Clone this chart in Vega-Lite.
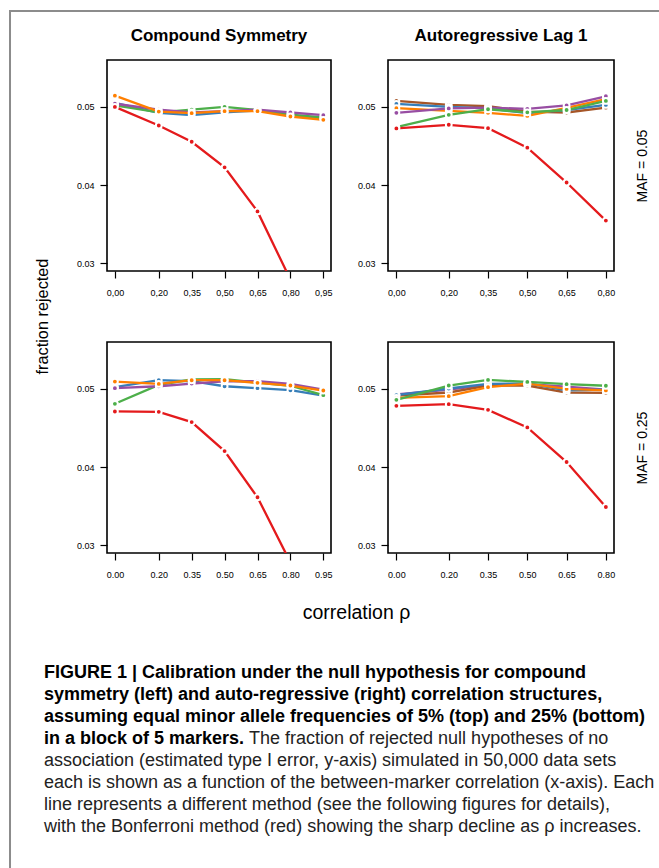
{
  "$schema": "https://vega.github.io/schema/vega-lite/v6.json",
  "background": "white",
  "padding": {"left": 9, "top": 10, "right": 0, "bottom": 0},
  "config": {
    "font": "Liberation Sans",
    "view": {"stroke": "black", "strokeWidth": 1.6},
    "axis": {"domain": false, "grid": false, "ticks": true, "tickColor": "black", "tickSize": 7, "tickWidth": 1.2, "labelFontSize": 9, "labelColor": "black", "labelFont": "Liberation Sans", "titleFont": "Liberation Sans", "titleFontWeight": "normal", "titleColor": "black", "labelFlush": false, "labelOverlap": false},
    "axisX": {"labelPadding": 10.5},
    "axisY": {"labelPadding": 6},
    "title": {"fontSize": 17, "fontWeight": "bold", "offset": 15, "color": "black", "font": "Liberation Sans"}
  },
  "datasets": {
    "cs05": [
      {"rho": 0, "method": "Method 1", "rate": 0.0505}, {"rho": 0.2, "method": "Method 1", "rate": 0.04924}, {"rho": 0.35, "method": "Method 1", "rate": 0.04894}, {"rho": 0.5, "method": "Method 1", "rate": 0.0493}, {"rho": 0.65, "method": "Method 1", "rate": 0.04955}, {"rho": 0.8, "method": "Method 1", "rate": 0.0489}, {"rho": 0.95, "method": "Method 1", "rate": 0.0485},
      {"rho": 0, "method": "Method 2", "rate": 0.0502}, {"rho": 0.2, "method": "Method 2", "rate": 0.0493}, {"rho": 0.35, "method": "Method 2", "rate": 0.04966}, {"rho": 0.5, "method": "Method 2", "rate": 0.05}, {"rho": 0.65, "method": "Method 2", "rate": 0.0496}, {"rho": 0.8, "method": "Method 2", "rate": 0.049}, {"rho": 0.95, "method": "Method 2", "rate": 0.04864},
      {"rho": 0, "method": "Method 3", "rate": 0.0504}, {"rho": 0.2, "method": "Method 3", "rate": 0.04966}, {"rho": 0.35, "method": "Method 3", "rate": 0.0493}, {"rho": 0.5, "method": "Method 3", "rate": 0.04945}, {"rho": 0.65, "method": "Method 3", "rate": 0.04966}, {"rho": 0.8, "method": "Method 3", "rate": 0.04928}, {"rho": 0.95, "method": "Method 3", "rate": 0.04894},
      {"rho": 0, "method": "Method 5", "rate": 0.05144}, {"rho": 0.2, "method": "Method 5", "rate": 0.0494}, {"rho": 0.35, "method": "Method 5", "rate": 0.0492}, {"rho": 0.5, "method": "Method 5", "rate": 0.04945}, {"rho": 0.65, "method": "Method 5", "rate": 0.04945}, {"rho": 0.8, "method": "Method 5", "rate": 0.04877}, {"rho": 0.95, "method": "Method 5", "rate": 0.04834},
      {"rho": 0, "method": "Bonferroni", "rate": 0.05}, {"rho": 0.2, "method": "Bonferroni", "rate": 0.04762}, {"rho": 0.35, "method": "Bonferroni", "rate": 0.04554}, {"rho": 0.5, "method": "Bonferroni", "rate": 0.04227}, {"rho": 0.65, "method": "Bonferroni", "rate": 0.03662}, {"rho": 0.8, "method": "Bonferroni", "rate": 0.0279}, {"rho": 0.95, "method": "Bonferroni", "rate": 0.019}
    ],
    "ar05": [
      {"rho": 0, "method": "Method 4", "rate": 0.05076}, {"rho": 0.2, "method": "Method 4", "rate": 0.05025}, {"rho": 0.35, "method": "Method 4", "rate": 0.05008}, {"rho": 0.5, "method": "Method 4", "rate": 0.0494}, {"rho": 0.65, "method": "Method 4", "rate": 0.04928}, {"rho": 0.8, "method": "Method 4", "rate": 0.0499},
      {"rho": 0, "method": "Method 1", "rate": 0.05038}, {"rho": 0.2, "method": "Method 1", "rate": 0.05}, {"rho": 0.35, "method": "Method 1", "rate": 0.0498}, {"rho": 0.5, "method": "Method 1", "rate": 0.0492}, {"rho": 0.65, "method": "Method 1", "rate": 0.0496}, {"rho": 0.8, "method": "Method 1", "rate": 0.05025},
      {"rho": 0, "method": "Method 5", "rate": 0.04983}, {"rho": 0.2, "method": "Method 5", "rate": 0.04949}, {"rho": 0.35, "method": "Method 5", "rate": 0.04924}, {"rho": 0.5, "method": "Method 5", "rate": 0.04885}, {"rho": 0.65, "method": "Method 5", "rate": 0.04987}, {"rho": 0.8, "method": "Method 5", "rate": 0.05098},
      {"rho": 0, "method": "Method 3", "rate": 0.04924}, {"rho": 0.2, "method": "Method 3", "rate": 0.0498}, {"rho": 0.35, "method": "Method 3", "rate": 0.0499}, {"rho": 0.5, "method": "Method 3", "rate": 0.04975}, {"rho": 0.65, "method": "Method 3", "rate": 0.0502}, {"rho": 0.8, "method": "Method 3", "rate": 0.05136},
      {"rho": 0, "method": "Method 2", "rate": 0.04741}, {"rho": 0.2, "method": "Method 2", "rate": 0.04898}, {"rho": 0.35, "method": "Method 2", "rate": 0.0497}, {"rho": 0.5, "method": "Method 2", "rate": 0.0493}, {"rho": 0.65, "method": "Method 2", "rate": 0.0496}, {"rho": 0.8, "method": "Method 2", "rate": 0.05076},
      {"rho": 0, "method": "Bonferroni", "rate": 0.04724}, {"rho": 0.2, "method": "Bonferroni", "rate": 0.04771}, {"rho": 0.35, "method": "Bonferroni", "rate": 0.04728}, {"rho": 0.5, "method": "Bonferroni", "rate": 0.04478}, {"rho": 0.65, "method": "Bonferroni", "rate": 0.04032}, {"rho": 0.8, "method": "Bonferroni", "rate": 0.03545}
    ],
    "cs25": [
      {"rho": 0, "method": "Method 1", "rate": 0.05022}, {"rho": 0.2, "method": "Method 1", "rate": 0.05111}, {"rho": 0.35, "method": "Method 1", "rate": 0.05098}, {"rho": 0.5, "method": "Method 1", "rate": 0.05034}, {"rho": 0.65, "method": "Method 1", "rate": 0.05009}, {"rho": 0.8, "method": "Method 1", "rate": 0.04983}, {"rho": 0.95, "method": "Method 1", "rate": 0.04915},
      {"rho": 0, "method": "Method 2", "rate": 0.04809}, {"rho": 0.2, "method": "Method 2", "rate": 0.0505}, {"rho": 0.35, "method": "Method 2", "rate": 0.0512}, {"rho": 0.5, "method": "Method 2", "rate": 0.05124}, {"rho": 0.65, "method": "Method 2", "rate": 0.0508}, {"rho": 0.8, "method": "Method 2", "rate": 0.0504}, {"rho": 0.95, "method": "Method 2", "rate": 0.0492},
      {"rho": 0, "method": "Method 3", "rate": 0.05009}, {"rho": 0.2, "method": "Method 3", "rate": 0.05034}, {"rho": 0.35, "method": "Method 3", "rate": 0.05068}, {"rho": 0.5, "method": "Method 3", "rate": 0.05098}, {"rho": 0.65, "method": "Method 3", "rate": 0.05098}, {"rho": 0.8, "method": "Method 3", "rate": 0.05064}, {"rho": 0.95, "method": "Method 3", "rate": 0.0499},
      {"rho": 0, "method": "Method 5", "rate": 0.05094}, {"rho": 0.2, "method": "Method 5", "rate": 0.05064}, {"rho": 0.35, "method": "Method 5", "rate": 0.05111}, {"rho": 0.5, "method": "Method 5", "rate": 0.05111}, {"rho": 0.65, "method": "Method 5", "rate": 0.05077}, {"rho": 0.8, "method": "Method 5", "rate": 0.05043}, {"rho": 0.95, "method": "Method 5", "rate": 0.04979},
      {"rho": 0, "method": "Bonferroni", "rate": 0.04711}, {"rho": 0.2, "method": "Bonferroni", "rate": 0.04706}, {"rho": 0.35, "method": "Bonferroni", "rate": 0.04575}, {"rho": 0.5, "method": "Bonferroni", "rate": 0.04204}, {"rho": 0.65, "method": "Bonferroni", "rate": 0.03613}, {"rho": 0.8, "method": "Bonferroni", "rate": 0.0278}, {"rho": 0.95, "method": "Bonferroni", "rate": 0.019}
    ],
    "ar25": [
      {"rho": 0, "method": "Method 3", "rate": 0.04928}, {"rho": 0.2, "method": "Method 3", "rate": 0.0499}, {"rho": 0.35, "method": "Method 3", "rate": 0.0505}, {"rho": 0.5, "method": "Method 3", "rate": 0.0506}, {"rho": 0.65, "method": "Method 3", "rate": 0.0503}, {"rho": 0.8, "method": "Method 3", "rate": 0.0499},
      {"rho": 0, "method": "Method 4", "rate": 0.04915}, {"rho": 0.2, "method": "Method 4", "rate": 0.04954}, {"rho": 0.35, "method": "Method 4", "rate": 0.05043}, {"rho": 0.5, "method": "Method 4", "rate": 0.05043}, {"rho": 0.65, "method": "Method 4", "rate": 0.04954}, {"rho": 0.8, "method": "Method 4", "rate": 0.0495},
      {"rho": 0, "method": "Method 1", "rate": 0.0492}, {"rho": 0.2, "method": "Method 1", "rate": 0.05005}, {"rho": 0.35, "method": "Method 1", "rate": 0.05064}, {"rho": 0.5, "method": "Method 1", "rate": 0.0507}, {"rho": 0.65, "method": "Method 1", "rate": 0.0498}, {"rho": 0.8, "method": "Method 1", "rate": 0.0499},
      {"rho": 0, "method": "Method 5", "rate": 0.04885}, {"rho": 0.2, "method": "Method 5", "rate": 0.04907}, {"rho": 0.35, "method": "Method 5", "rate": 0.05022}, {"rho": 0.5, "method": "Method 5", "rate": 0.05068}, {"rho": 0.65, "method": "Method 5", "rate": 0.05}, {"rho": 0.8, "method": "Method 5", "rate": 0.0498},
      {"rho": 0, "method": "Method 2", "rate": 0.0486}, {"rho": 0.2, "method": "Method 2", "rate": 0.05043}, {"rho": 0.35, "method": "Method 2", "rate": 0.05115}, {"rho": 0.5, "method": "Method 2", "rate": 0.05089}, {"rho": 0.65, "method": "Method 2", "rate": 0.0506}, {"rho": 0.8, "method": "Method 2", "rate": 0.0504},
      {"rho": 0, "method": "Bonferroni", "rate": 0.04783}, {"rho": 0.2, "method": "Bonferroni", "rate": 0.04805}, {"rho": 0.35, "method": "Bonferroni", "rate": 0.04732}, {"rho": 0.5, "method": "Bonferroni", "rate": 0.04507}, {"rho": 0.65, "method": "Bonferroni", "rate": 0.04064}, {"rho": 0.8, "method": "Bonferroni", "rate": 0.03489}
    ],
    "capBold": [
      {"line": 1, "text": "FIGURE 1 | Calibration under the null hypothesis for compound"},
      {"line": 2, "text": "symmetry (left) and auto-regressive (right) correlation structures,"},
      {"line": 3, "text": "assuming equal minor allele frequencies of 5% (top) and 25% (bottom)"},
      {"line": 4, "text": "in a block of 5 markers."}
    ],
    "capTail": [
      {"line": 4, "text": "The fraction of rejected null hypotheses of no"}
    ],
    "capNormal": [
      {"line": 5, "text": "association (estimated type I error, y-axis) simulated in 50,000 data sets"},
      {"line": 6, "text": "each is shown as a function of the between-marker correlation (x-axis). Each"},
      {"line": 7, "text": "line represents a different method (see the following figures for details),"},
      {"line": 8, "text": "with the Bonferroni method (red) showing the sharp decline as ρ increases."}
    ]
  },
  "bounds": "flush",
  "spacing": 0,
  "hconcat": [
    {"width": 0.01, "height": 856, "data": {"values": []}, "mark": "point", "view": {"stroke": "#8c8c8c", "strokeWidth": 2}},
    {
      "bounds": "flush",
      "spacing": 48,
      "vconcat": [
        {"width": 648, "height": 0.01, "data": {"values": []}, "mark": "point", "view": {"stroke": "#8c8c8c", "strokeWidth": 2}},
        {
          "bounds": "flush",
          "spacing": 95,
          "hconcat": [
            {"width": 0.01, "height": 0.01, "data": {"values": []}, "mark": "point", "view": {"stroke": null}},
            {
              "bounds": "flush",
              "columns": 2,
              "spacing": {"row": 71, "column": 57},
              "concat": [
                {
                  "width": 224, "height": 211,
                  "title": {"text": "Compound Symmetry"},
                  "data": {"name": "cs05"},
                  "encoding": {
                    "x": {"field": "rho", "type": "quantitative", "scale": {"domain": [-0.036, 0.985], "nice": false, "zero": false}, "axis": {"values": [0, 0.2, 0.35, 0.5, 0.65, 0.8, 0.95], "format": ".2f", "labelExpr": "replace(datum.label, '.', ',')", "title": null}},
                    "y": {"field": "rate", "type": "quantitative", "scale": {"domain": [0.029, 0.056], "nice": false, "zero": false}, "axis": {"values": [0.03, 0.04, 0.05], "format": ".2f", "title": "fraction rejected", "titleFontSize": 16.3, "titleAngle": 270, "titleX": -65, "titleY": 256, "titleBaseline": "middle", "titleAlign": "center"}},
                    "color": {"field": "method", "type": "nominal", "scale": {"domain": ["Bonferroni", "Method 1", "Method 2", "Method 3", "Method 4", "Method 5"], "range": ["#E41A1C", "#377EB8", "#4DAF4A", "#984EA3", "#A65628", "#FF7F00"]}, "legend": null}
                  },
                  "layer": [
                    {"mark": {"type": "line", "strokeWidth": 2.3, "clip": true}},
                    {"mark": {"type": "point", "filled": true, "size": 34, "opacity": 1, "stroke": "white", "strokeWidth": 2, "clip": true}}
                  ]
                },
                {
                  "width": 226, "height": 211,
                  "title": {"text": "Autoregressive Lag 1"},
                  "data": {"name": "ar05"},
                  "encoding": {
                    "x": {"field": "rho", "type": "quantitative", "scale": {"domain": [-0.032, 0.831], "nice": false, "zero": false}, "axis": {"values": [0, 0.2, 0.35, 0.5, 0.65, 0.8], "format": ".2f", "labelExpr": "replace(datum.label, '.', ',')", "title": null}},
                    "color": {"field": "method", "type": "nominal", "scale": {"domain": ["Bonferroni", "Method 1", "Method 2", "Method 3", "Method 4", "Method 5"], "range": ["#E41A1C", "#377EB8", "#4DAF4A", "#984EA3", "#A65628", "#FF7F00"]}, "legend": null}
                  },
                  "layer": [
                    {"mark": {"type": "line", "strokeWidth": 2.3, "clip": true},
                     "encoding": {"y": {"field": "rate", "type": "quantitative", "scale": {"domain": [0.029, 0.056], "nice": false, "zero": false}, "axis": {"orient": "left", "values": [0.03, 0.04, 0.05], "format": ".2f", "title": null}}}},
                    {"mark": {"type": "point", "filled": true, "size": 34, "opacity": 1, "stroke": "white", "strokeWidth": 2, "clip": true},
                     "encoding": {"y": {"field": "rate", "type": "quantitative", "scale": {"domain": [0.029, 0.056], "nice": false, "zero": false}, "axis": {"orient": "right", "values": [], "labels": false, "ticks": false, "domain": false, "title": "MAF = 0.05", "titleFontSize": 14, "titleAngle": 270, "titleX": 28, "titleY": 105.5, "titleBaseline": "middle", "titleAlign": "center"}}}}
                  ],
                  "resolve": {"axis": {"y": "independent"}}
                },
                {
                  "width": 224, "height": 211,
                  "data": {"name": "cs25"},
                  "encoding": {
                    "x": {"field": "rho", "type": "quantitative", "scale": {"domain": [-0.036, 0.985], "nice": false, "zero": false}, "axis": {"values": [0, 0.2, 0.35, 0.5, 0.65, 0.8, 0.95], "format": ".2f", "title": "correlation ρ", "titleFontSize": 19.5, "titleX": 249, "titleY": 65, "titleBaseline": "alphabetic", "titleAlign": "center"}},
                    "y": {"field": "rate", "type": "quantitative", "scale": {"domain": [0.029, 0.056], "nice": false, "zero": false}, "axis": {"values": [0.03, 0.04, 0.05], "format": ".2f", "title": null}},
                    "color": {"field": "method", "type": "nominal", "scale": {"domain": ["Bonferroni", "Method 1", "Method 2", "Method 3", "Method 4", "Method 5"], "range": ["#E41A1C", "#377EB8", "#4DAF4A", "#984EA3", "#A65628", "#FF7F00"]}, "legend": null}
                  },
                  "layer": [
                    {"mark": {"type": "line", "strokeWidth": 2.3, "clip": true}},
                    {"mark": {"type": "point", "filled": true, "size": 34, "opacity": 1, "stroke": "white", "strokeWidth": 2, "clip": true}}
                  ]
                },
                {
                  "width": 226, "height": 211,
                  "data": {"name": "ar25"},
                  "encoding": {
                    "x": {"field": "rho", "type": "quantitative", "scale": {"domain": [-0.032, 0.831], "nice": false, "zero": false}, "axis": {"values": [0, 0.2, 0.35, 0.5, 0.65, 0.8], "format": ".2f", "title": null}},
                    "color": {"field": "method", "type": "nominal", "scale": {"domain": ["Bonferroni", "Method 1", "Method 2", "Method 3", "Method 4", "Method 5"], "range": ["#E41A1C", "#377EB8", "#4DAF4A", "#984EA3", "#A65628", "#FF7F00"]}, "legend": null}
                  },
                  "layer": [
                    {"mark": {"type": "line", "strokeWidth": 2.3, "clip": true},
                     "encoding": {"y": {"field": "rate", "type": "quantitative", "scale": {"domain": [0.029, 0.056], "nice": false, "zero": false}, "axis": {"orient": "left", "values": [0.03, 0.04, 0.05], "format": ".2f", "title": null}}}},
                    {"mark": {"type": "point", "filled": true, "size": 34, "opacity": 1, "stroke": "white", "strokeWidth": 2, "clip": true},
                     "encoding": {"y": {"field": "rate", "type": "quantitative", "scale": {"domain": [0.029, 0.056], "nice": false, "zero": false}, "axis": {"orient": "right", "values": [], "labels": false, "ticks": false, "domain": false, "title": "MAF = 0.25", "titleFontSize": 14, "titleAngle": 270, "titleX": 28, "titleY": 105.5, "titleBaseline": "middle", "titleAlign": "center"}}}}
                  ],
                  "resolve": {"axis": {"y": "independent"}}
                },
                {
                  "width": 1, "height": 242,
                  "view": {"stroke": null},
                  "encoding": {
                    "x": {"datum": 0, "type": "quantitative", "scale": {"domain": [0, 1]}, "axis": null},
                    "y": {"field": "line", "type": "quantitative", "scale": {"domain": [-1.2273, 9.7727], "reverse": true, "nice": false, "zero": false}, "axis": null}
                  },
                  "layer": [
                    {"data": {"name": "capBold"}, "mark": {"type": "text", "align": "left", "baseline": "middle", "fontSize": 18, "fontWeight": "bold", "dx": -63, "color": "black"}, "encoding": {"text": {"field": "text"}}},
                    {"data": {"name": "capTail"}, "mark": {"type": "text", "align": "left", "baseline": "middle", "fontSize": 18, "dx": 142, "color": "#222222"}, "encoding": {"text": {"field": "text"}}},
                    {"data": {"name": "capNormal"}, "mark": {"type": "text", "align": "left", "baseline": "middle", "fontSize": 18, "dx": -63, "color": "#222222"}, "encoding": {"text": {"field": "text"}}}
                  ]
                }
              ]
            }
          ]
        }
      ]
    }
  ]
}
